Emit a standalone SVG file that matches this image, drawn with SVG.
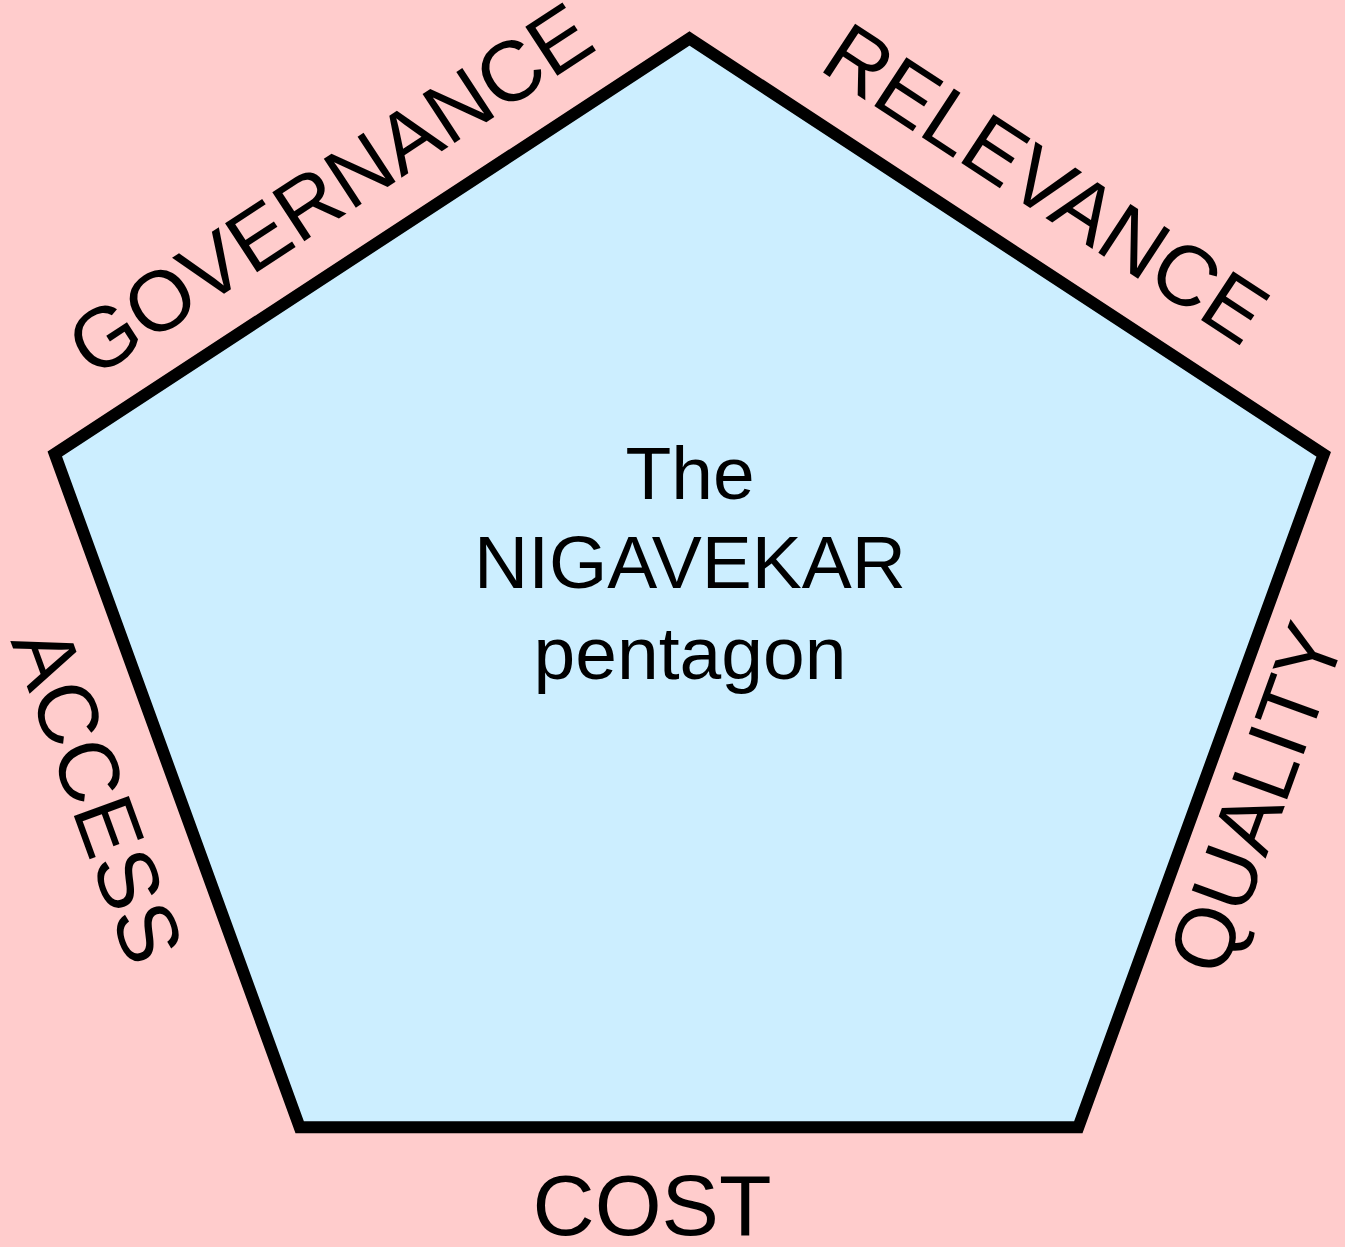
<svg xmlns="http://www.w3.org/2000/svg" width="1345" height="1247" viewBox="0 0 1345 1247">
<style>
.lbl{font-family:"Liberation Sans",Arial,sans-serif;font-size:85px;fill:#000;text-anchor:middle}
.ctr{font-family:"Liberation Sans",Arial,sans-serif;font-size:75px;fill:#000;text-anchor:middle}
</style>
<rect x="0" y="0" width="1345" height="1247" fill="#FFCCCC"/>
<g id="pentagon">
<polygon points="689.5,38.5 1323.7,454.3 1078.3,1127.2 299.7,1127.2 54.8,454" fill="#CCEEFF" stroke="#000" stroke-width="12" stroke-linejoin="miter"/>
<text class="ctr" x="690" y="499">The</text>
<text class="ctr" x="690" y="588">NIGAVEKAR</text>
<text class="ctr" x="690" y="679">pentagon</text>
</g>
<g id="connectors"></g>
<g id="governance"><text class="lbl" transform="translate(346,214) rotate(-33.2)">GOVERNANCE</text></g>
<g id="relevance"><text class="lbl" transform="translate(1030,208) rotate(33.2)">RELEVANCE</text></g>
<g id="access"><text class="lbl" transform="translate(70,805) rotate(70)">ACCESS</text></g>
<g id="quality"><text class="lbl" transform="translate(1284,808) rotate(-70)">QUALITY</text></g>
<g id="cost"><text class="lbl" x="652" y="1235" style="font-size:86px">COST</text></g>
</svg>
